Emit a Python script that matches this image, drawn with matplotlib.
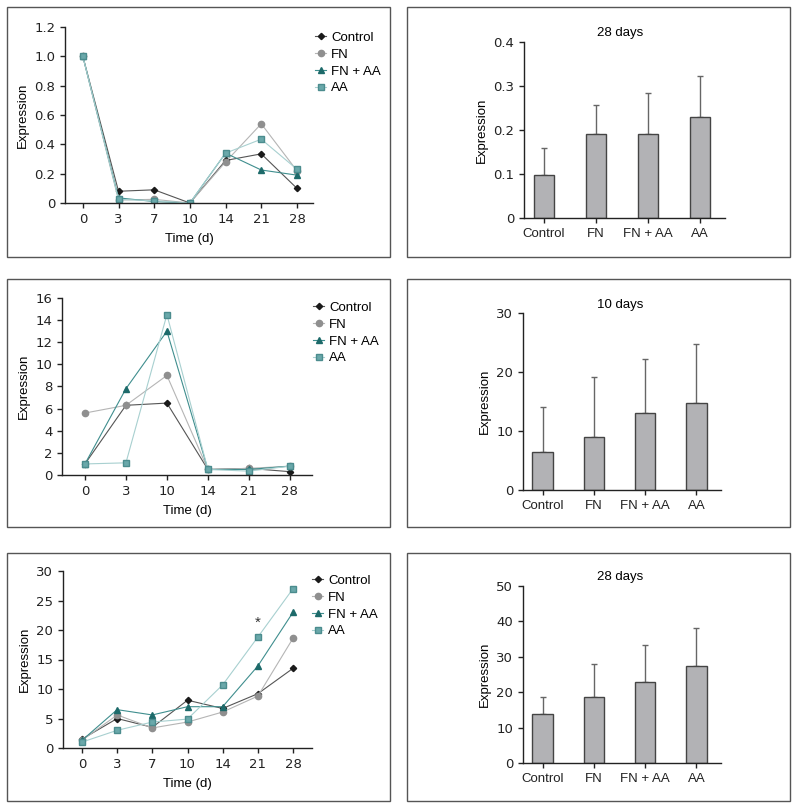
import numpy as np
import matplotlib
matplotlib.use("Agg")
import matplotlib.pyplot as plt
from matplotlib.patches import Rectangle

plt.rcParams['font.family'] = ['Liberation Sans', 'DejaVu Sans']
plt.rcParams['font.size'] = 9

W, H = 800, 809

# ---- data ----
groups = ['Control', 'FN', 'FN + AA', 'AA']

days_a = ['0', '3', '7', '10', '14', '21', '28']
ctrl_a = [1.0, 0.08, 0.09, 0.0, 0.29, 0.335, 0.10]
fn_a = [1.0, 0.02, 0.025, 0.0, 0.28, 0.54, 0.22]
fnaa_a = [1.0, 0.035, 0.01, 0.0, 0.34, 0.225, 0.19]
aa_a = [1.0, 0.025, 0.015, 0.0, 0.34, 0.435, 0.23]

days_b = ['0', '3', '10', '14', '21', '28']
ctrl_b = [1.0, 6.3, 6.5, 0.5, 0.6, 0.3]
fn_b = [5.6, 6.3, 9.0, 0.5, 0.6, 0.8]
fnaa_b = [1.0, 7.8, 13.0, 0.5, 0.5, 0.8]
aa_b = [1.0, 1.1, 14.5, 0.5, 0.35, 0.8]

days_c = ['0', '3', '7', '10', '14', '21', '28']
ctrl_c = [1.5, 5.0, 3.5, 8.1, 6.7, 9.2, 13.5]
fn_c = [1.3, 5.6, 3.4, 4.4, 6.1, 8.8, 18.6]
fnaa_c = [1.3, 6.5, 5.6, 7.0, 7.0, 13.9, 23.0]
aa_c = [1.0, 3.0, 4.4, 4.9, 10.7, 18.8, 27.0]

bar_a = [0.097, 0.192, 0.192, 0.23]
err_a = [0.063, 0.064, 0.093, 0.092]
bar_b = [6.5, 9.0, 13.0, 14.7]
err_b = [7.6, 10.1, 9.2, 10.0]
bar_c = [13.8, 18.6, 22.9, 27.4]
err_c = [4.9, 9.3, 10.4, 10.8]

styles = [
    dict(marker='D', ms=3.2, color='#555555', mfc='#1a1a1a', mec='#1a1a1a', lw=0.8),
    dict(marker='o', ms=4.5, color='#b5b5b5', mfc='#8f8f8f', mec='#8f8f8f', lw=0.8),
    dict(marker='^', ms=4.5, color='#3f8e8e', mfc='#1d6a6a', mec='#1d6a6a', lw=0.8),
    dict(marker='s', ms=4.5, color='#a8d0d0', mfc='#6aa8aa', mec='#4b8c8e', lw=0.8),
]

fig = plt.figure(figsize=(W / 100, H / 100), dpi=100)


def px_axes(x0, y0, x1, y1):
    return fig.add_axes([x0 / W, 1 - y1 / H, (x1 - x0) / W, (y1 - y0) / H])


def box(x0, y0, x1, y1):
    fig.patches.append(Rectangle((x0 / W, 1 - y1 / H), (x1 - x0) / W, (y1 - y0) / H,
                                 transform=fig.transFigure, fill=False,
                                 edgecolor='#555555', lw=1))


def style_axes(ax, numeric_x=True):
    for s in ['top', 'right']:
        ax.spines[s].set_visible(False)
    for s in ['left', 'bottom']:
        ax.spines[s].set_linewidth(1.0)
        ax.spines[s].set_color('#222222')
    ax.tick_params(direction='out', length=3.5, width=1, colors='#222222', labelsize=9.5)
    # numbers in the reference use wide digits
    ax.tick_params(axis='y', labelfontfamily='DejaVu Sans', labelsize=9.5)
    if numeric_x:
        ax.tick_params(axis='x', labelfontfamily='DejaVu Sans', labelsize=9.5)


def line_panel(rect, days, series, ylim, yticks, xlim, leg_xy):
    ax = px_axes(*rect)
    x = np.arange(len(days))
    for vals, lab, st in zip(series, groups, styles):
        ax.plot(x, vals, label=lab, **st)
    ax.set_xlim(*xlim)
    ax.set_ylim(*ylim)
    ax.set_yticks(yticks)
    ax.set_xticks(x)
    ax.set_xticklabels(days)
    ax.set_xlabel('Time (d)', fontsize=9.5, labelpad=5)
    ax.set_ylabel('Expression', fontsize=9.5, labelpad=4)
    style_axes(ax)
    ax.legend(loc='upper left', bbox_to_anchor=(leg_xy[0] / W, 1 - leg_xy[1] / H),
              bbox_transform=fig.transFigure, frameon=False, fontsize=9.5,
              handlelength=0.9, handletextpad=0.35, labelspacing=0.35, borderpad=0)
    return ax


def bar_panel(rect, vals, errs, ylim, yticks, title, title_y):
    ax = px_axes(*rect)
    x = np.arange(len(groups))
    ax.bar(x, vals, width=0.4, color='#b2b2b5', edgecolor='#444444', lw=1, zorder=2)
    ax.errorbar(x, vals, yerr=[np.zeros(len(errs)), errs], fmt='none',
                ecolor='#666666', elinewidth=1, capsize=2.5, capthick=1, zorder=1)
    ax.set_xlim(-0.385, 3.48)
    ax.set_ylim(*ylim)
    ax.set_yticks(yticks)
    ax.set_xticks(x)
    ax.set_xticklabels(groups)
    ax.set_ylabel('Expression', fontsize=9.5, labelpad=4)
    style_axes(ax, numeric_x=False)
    fig.text(620 / W, 1 - title_y / H, title, ha='center', va='center', fontsize=9.5)
    return ax


# boxes
for y0, y1 in [(7, 257), (279, 527), (553, 801)]:
    box(7, y0, 390, y1)
    box(407, y0, 790, y1)

# left column
ax1 = line_panel((65, 27, 313, 203), days_a, [ctrl_a, fn_a, fnaa_a, aa_a],
                 (0, 1.2), [0, 0.2, 0.4, 0.6, 0.8, 1.0, 1.2], (-0.5, 6.45), (308, 25))
ax1.set_yticklabels(['0', '0.2', '0.4', '0.6', '0.8', '1.0', '1.2'])

line_panel((62, 298, 312, 475), days_b, [ctrl_b, fn_b, fnaa_b, aa_b],
           (0, 16), np.arange(0, 17, 2), (-0.56, 5.54), (306, 295))

ax5 = line_panel((63, 571, 312, 748), days_c, [ctrl_c, fn_c, fnaa_c, aa_c],
                 (0, 30), np.arange(0, 31, 5), (-0.54, 6.54), (305, 568))
ax5.text(5, 21.3, '*', ha='center', va='center', fontsize=11, color='#333333')

# right column
ax2 = bar_panel((524, 42, 725, 218), bar_a, err_a, (0, 0.4), [0, 0.1, 0.2, 0.3, 0.4],
                '28 days', 33)
ax2.set_yticklabels(['0', '0.1', '0.2', '0.3', '0.4'])
bar_panel((523, 313, 721, 490), bar_b, err_b, (0, 30), [0, 10, 20, 30],
          '10 days', 305)
bar_panel((523, 586, 721, 763), bar_c, err_c, (0, 50), [0, 10, 20, 30, 40, 50],
          '28 days', 577)

fig.savefig('out.png', dpi=100)
